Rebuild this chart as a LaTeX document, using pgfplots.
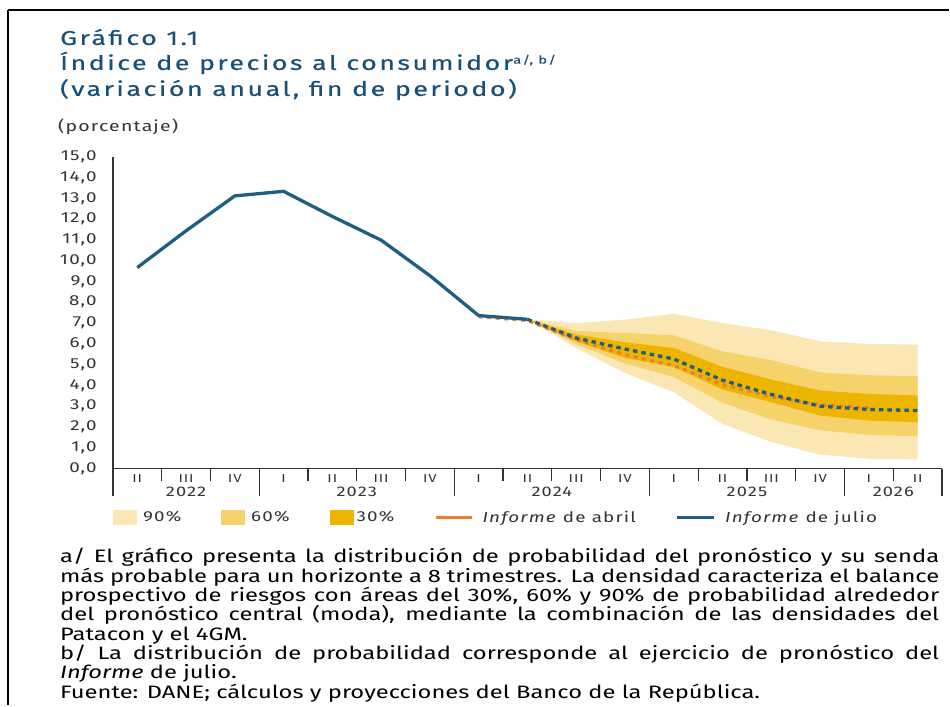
\documentclass[border=0pt]{standalone}
\usepackage{fontspec}
\setmainfont{Fira Sans}[FakeStretch=1.3,LetterSpace=8]
\newfontfamily\titlefont{Fira Sans}[FakeStretch=1.35,LetterSpace=12,FakeBold=0.3]
\newfontfamily\notefont{Fira Sans}[FakeStretch=1.32]
\usepackage{pgfplots}
\usepackage{pgfplotstable}
\pgfplotsset{compat=1.18}
\usepgfplotslibrary{fillbetween}

\definecolor{ttl}{RGB}{26,80,118}
\definecolor{jul}{RGB}{31,94,130}
\definecolor{abr}{RGB}{237,125,49}
\definecolor{c90}{RGB}{250,231,180}
\definecolor{c60}{RGB}{245,210,106}
\definecolor{c30}{RGB}{237,180,0}
\definecolor{tk}{RGB}{51,51,51}

\pgfplotstableread{
x y
0 9.67
1 11.44
2 13.12
3 13.34
4 12.13
5 10.99
6 9.28
7 7.36
8 7.18
}\hist
\pgfplotstableread{
x y
8 7.18
9 6.28
10 5.75
11 5.27
12 4.25
13 3.56
14 3.00
15 2.84
16 2.79
}\julio
\pgfplotstableread{
x y
7 7.30
8 7.12
9 6.20
10 5.48
11 4.95
12 4.04
13 3.45
14 3.07
15 2.92
}\abril
\pgfplotstableread{
x u90 u60 u30 l30 l60 l90
8 7.18 7.18 7.18 7.18 7.18 7.18
9 7.00 6.62 6.45 6.12 5.98 5.80
10 7.16 6.52 6.07 5.32 5.05 4.60
11 7.45 6.41 5.80 4.89 4.41 3.67
12 7.00 5.64 4.89 3.80 3.16 2.15
13 6.65 5.21 4.28 3.19 2.36 1.27
14 6.12 4.63 3.75 2.55 1.84 0.67
15 6.00 4.49 3.59 2.31 1.62 0.47
16 5.96 4.44 3.51 2.23 1.55 0.43
}\fan

\begin{document}
\begin{tikzpicture}
\path (0pt,0pt) rectangle (950pt,706pt);
\draw[line width=2pt, black] (8pt,696pt) -- (950pt,696pt);
\draw[line width=2pt, black] (8pt,696pt) -- (8pt,0pt);
\node[anchor=base west, inner sep=0pt, text=ttl, font=\titlefont\fontsize{20}{24}\selectfont] at (60pt,661pt) {Gráfico 1.1};
\node[anchor=base west, inner sep=0pt, text=ttl, font=\titlefont\fontsize{20}{24}\selectfont] at (60pt,636pt) {Índice de precios al consumidor\raisebox{0.6ex}{\fontsize{11}{12}\selectfont a/, b/}};
\node[anchor=base west, inner sep=0pt, text=ttl, font=\titlefont\fontsize{20}{24}\selectfont] at (60pt,610pt) {(variación anual, fin de periodo)};
\node[anchor=base west, inner sep=0pt, text=tk, font=\fontsize{15}{17}\selectfont] at (58pt,574pt) {(porcentaje)};

\begin{axis}[
  at={(113pt,237pt)}, anchor=south west,
  scale only axis, width=830pt, height=312pt,
  xmin=-0.5, xmax=16.5, ymin=0, ymax=15,
  clip=false,
  axis x line*=bottom, axis y line*=left,
  axis line style={-, draw=tk, line width=1.3pt},
  tick align=outside,
  major tick length=13pt,
  xtick={-0.5,0.5,...,15.5},
  xticklabels={II,III,IV,I,II,III,IV,I,II,III,IV,I,II,III,IV,I,II},
  xtick style={draw=tk, line width=1.3pt},
  xticklabel style={anchor=north, inner sep=0pt, xshift=24.41pt, yshift=7pt, font=\fontsize{11.5}{12}\selectfont, text=tk},
  extra x ticks={-0.5,2.5,6.5,10.5,14.5,16.5},
  extra x tick labels={},
  extra x tick style={major tick length=28pt, xticklabel style={overlay}},
  ytick={0,...,15},
  ytick style={draw=none},
  yticklabel style={anchor=east, inner sep=0pt, xshift=-3pt, font=\fontsize{14.5}{16}\selectfont, text=tk,
    /pgf/number format/fixed, /pgf/number format/fixed zerofill,
    /pgf/number format/precision=1, /pgf/number format/use comma,
    /pgf/number format/assume math mode=true},
  legend columns=5,
  legend style={at={(0,-0.157)}, anchor=west, draw=none, fill=none, inner sep=0pt,
    font=\fontsize{14.5}{18}\selectfont, text=tk,
    nodes={inner sep=0pt, anchor=west},
    /tikz/every even column/.append style={column sep=40pt}},
  legend cell align=left,
]
\addplot[draw=none, name path=u90, forget plot] table[x=x,y=u90]{\fan};
\addplot[draw=none, name path=l90, forget plot] table[x=x,y=l90]{\fan};
\addplot[draw=none, name path=u60, forget plot] table[x=x,y=u60]{\fan};
\addplot[draw=none, name path=l60, forget plot] table[x=x,y=l60]{\fan};
\addplot[draw=none, name path=u30, forget plot] table[x=x,y=u30]{\fan};
\addplot[draw=none, name path=l30, forget plot] table[x=x,y=l30]{\fan};
\addplot[fill=c90, draw=none, legend image code/.code={\fill[c90] (0pt,-7.5pt) rectangle (24pt,7.5pt); \path[draw=none, fill=none] (0pt,0pt) -- (30pt,0pt);}] fill between[of=u90 and l90];
\addlegendentry{90\%}
\addplot[fill=c60, draw=none, legend image code/.code={\fill[c60] (0pt,-7.5pt) rectangle (24pt,7.5pt); \path[draw=none, fill=none] (0pt,0pt) -- (30pt,0pt);}] fill between[of=u60 and l60];
\addlegendentry{60\%}
\addplot[fill=c30, draw=none, legend image code/.code={\fill[c30] (0pt,-7.5pt) rectangle (24pt,7.5pt); \path[draw=none, fill=none] (0pt,0pt) -- (27pt,0pt);}] fill between[of=u30 and l30];
\addlegendentry{30\%}
\addplot[abr, line width=3pt, dash pattern=on 4pt off 4.5pt, legend image code/.code={\draw[abr, solid, line width=2.5pt] (0pt,0pt) -- (36pt,0pt); \path[draw=none] (0pt,0pt) -- (47pt,0pt);}] table[x=x,y=y]{\abril};
\addlegendentry{\textit{Informe} de abril}
\addplot[jul, line width=3.3pt, dash pattern=on 4.5pt off 4pt, forget plot] table[x=x,y=y]{\julio};
\addplot[jul, line width=3.3pt, line join=round, legend image code/.code={\draw[jul, solid, line width=2.5pt] (0pt,0pt) -- (37pt,0pt); \path[draw=none] (0pt,0pt) -- (48pt,0pt);}] table[x=x,y=y]{\hist};
\addlegendentry{\textit{Informe} de julio}
\node[anchor=north, inner sep=0pt, font=\fontsize{14}{16}\selectfont, text=tk] at (axis cs:1,0) [yshift=-18pt] {2022};
\node[anchor=north, inner sep=0pt, font=\fontsize{14}{16}\selectfont, text=tk] at (axis cs:4.5,0) [yshift=-18pt] {2023};
\node[anchor=north, inner sep=0pt, font=\fontsize{14}{16}\selectfont, text=tk] at (axis cs:8.5,0) [yshift=-18pt] {2024};
\node[anchor=north, inner sep=0pt, font=\fontsize{14}{16}\selectfont, text=tk] at (axis cs:12.5,0) [yshift=-18pt] {2025};
\node[anchor=north, inner sep=0pt, font=\fontsize{14}{16}\selectfont, text=tk] at (axis cs:15.5,0) [yshift=-18pt] {2026};
\end{axis}

\node[anchor=north west, inner sep=0pt, text width=880pt, align=justify, text=black,
  font=\notefont\fontsize{18}{19.4}\selectfont] at (60pt,157.5pt) {%
a/ El gráfico presenta la distribución de probabilidad del pronóstico y su senda\linebreak
más probable para un horizonte a 8 trimestres. La densidad caracteriza el balance\linebreak
prospectivo de riesgos con áreas del 30\%, 60\% y 90\% de probabilidad alrededor\linebreak
del pronóstico central (moda), mediante la combinación de las densidades del\linebreak
Patacon y el 4GM.\\
b/ La distribución de probabilidad corresponde al ejercicio de pronóstico del\linebreak
\textit{Informe} de julio.\\
Fuente: DANE; cálculos y proyecciones del Banco de la República.};
\end{tikzpicture}
\end{document}
